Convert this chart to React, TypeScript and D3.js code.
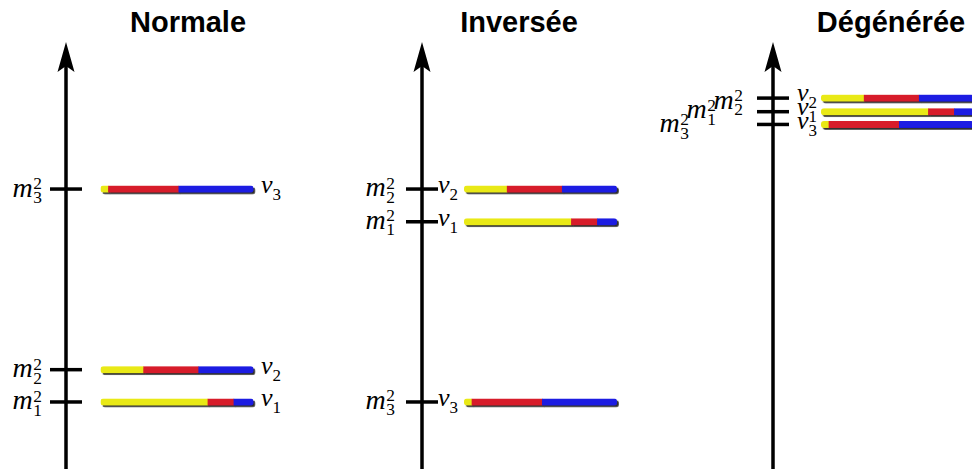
import React from "react";
import * as d3 from "d3";

// ---- data ----
const panelTitles = ["Normale", "Inversée", "Dégénérée"];
const stateIndex = ["1", "2", "3"]; // ν1, ν2, ν3 / m1², m2², m3²
// squared-mass levels (arbitrary units, 0..100 along the vertical axis)
const levelsNormale = [15.3, 22.9, 65.4];
const levelsInversee = [57.7, 65.4, 15.3];
const levelsDegeneree = [83.6, 86.8, 80.6];
// flavour content of each mass state (ν1, ν2, ν3)
const fractionE = [0.7, 0.28, 0.05];
const fractionMu = [0.17, 0.36, 0.46];
const fractionTau = [0.13, 0.36, 0.49];
const flavourColors = ["#e9e914", "#d71f2a", "#1a1ae2"];

const W = 972;
const H = 471;

const y = d3.scaleLinear().domain([0, 100]).range([467, 42]);

type PanelLayout = {
  axisX: number;
  titleX: number;
  barX: number;
  nuX: number;
  nuDy: number[];
  labelRight: number[];
  labelDy: number[];
  levels: number[];
};

const barWidth = 153;
const barHeight = 7;
const tickHalf = 16;

const layouts: PanelLayout[] = [
  {
    axisX: 66,
    titleX: 188,
    barX: 100.5,
    nuX: 261,
    nuDy: [4, 4, 4],
    labelRight: [42, 42, 42],
    labelDy: [7.5, 7.5, 7.5],
    levels: levelsNormale,
  },
  {
    axisX: 422,
    titleX: 519,
    barX: 464,
    nuX: 438,
    nuDy: [4, 4, 4],
    labelRight: [395, 395, 395],
    labelDy: [7, 7, 7],
    levels: levelsInversee,
  },
  {
    axisX: 773,
    titleX: 891,
    barX: 821,
    nuX: 797,
    nuDy: [3, 3, 5],
    labelRight: [716, 743, 689],
    labelDy: [6.5, 10.5, 8],
    levels: levelsDegeneree,
  },
];

const serif = "'Liberation Serif', 'Times New Roman', serif";

function MLabel({ right, base, idx, size }: { right: number; base: number; idx: string; size: number }) {
  const dig = size * 0.62;
  const digW = dig * 0.5;
  return (
    <g>
      <text x={right - digW - 0.5} y={base} textAnchor="end" fontFamily={serif} fontStyle="italic" fontSize={size}>
        m
      </text>
      <text x={right - digW} y={base - 7.5} fontFamily={serif} fontSize={dig}>
        2
      </text>
      <text x={right - digW} y={base + 6.5} fontFamily={serif} fontSize={dig}>
        {idx}
      </text>
    </g>
  );
}

function NuLabel({ x, base, idx }: { x: number; base: number; idx: string }) {
  return (
    <text fontFamily={serif} fontSize={26} x={x} y={base}>
      <tspan fontStyle="italic">ν</tspan>
      <tspan fontSize={17} dy={7}>
        {idx}
      </tspan>
    </text>
  );
}

export default function App() {
  return (
    <svg
      width={W}
      height={H}
      style={{ position: "absolute", left: 0, top: 0, background: "#fff" }}
      xmlns="http://www.w3.org/2000/svg"
    >
      <defs>
        <filter id="shadow" x="-5%" y="-60%" width="115%" height="240%">
          <feDropShadow dx="1.8" dy="1.8" stdDeviation="0.7" floodColor="#151515" floodOpacity="0.9" />
        </filter>
        {layouts.map((L, p) =>
          L.levels.map((lv, i) => (
            <clipPath id={`clip-${p}-${i}`} key={`c${p}${i}`}>
              <rect x={L.barX} y={y(lv) - barHeight / 2} width={barWidth} height={barHeight} rx={3} ry={3} />
            </clipPath>
          ))
        )}
      </defs>
      <rect width={W} height={H} fill="#fff" />
      {layouts.map((L, p) => {
        const ax = L.axisX;
        const bx = d3.scaleLinear().domain([0, 1]).range([L.barX, L.barX + barWidth]);
        return (
          <g key={p}>
            <text
              x={L.titleX}
              y={32}
              textAnchor="middle"
              fontFamily="'Liberation Sans', Arial, sans-serif"
              fontWeight="bold"
              fontSize={29}
            >
              {panelTitles[p]}
            </text>
            <line x1={ax} x2={ax} y1={469} y2={62} stroke="#000" strokeWidth={3.5} />
            <path
              d={`M${ax},${y(100)} L${ax + 8.5},${y(100) + 30} L${ax},${y(100) + 24} L${ax - 8.5},${y(100) + 30} Z`}
              fill="#000"
            />
            {L.levels.map((lv, i) => {
              const yy = y(lv);
              const fr = [fractionE[i], fractionMu[i], fractionTau[i]];
              const cum = d3.cumsum(fr);
              const starts = [0, cum[0], cum[1]];
              return (
                <g key={i}>
                  <line x1={ax - tickHalf} x2={ax + tickHalf} y1={yy} y2={yy} stroke="#000" strokeWidth={3.5} />
                  <MLabel right={L.labelRight[i]} base={yy + L.labelDy[i]} idx={stateIndex[i]} size={28} />
                  <NuLabel x={L.nuX} base={yy + L.nuDy[i]} idx={stateIndex[i]} />
                  <g filter="url(#shadow)">
                    <g clipPath={`url(#clip-${p}-${i})`}>
                      {fr.map((f, k) => (
                        <rect
                          key={k}
                          x={bx(starts[k])}
                          width={bx(starts[k] + f) - bx(starts[k]) + (k < 2 ? 0.5 : 0)}
                          y={yy - barHeight / 2}
                          height={barHeight}
                          fill={flavourColors[k]}
                        />
                      ))}
                    </g>
                  </g>
                </g>
              );
            })}
          </g>
        );
      })}
    </svg>
  );
}
